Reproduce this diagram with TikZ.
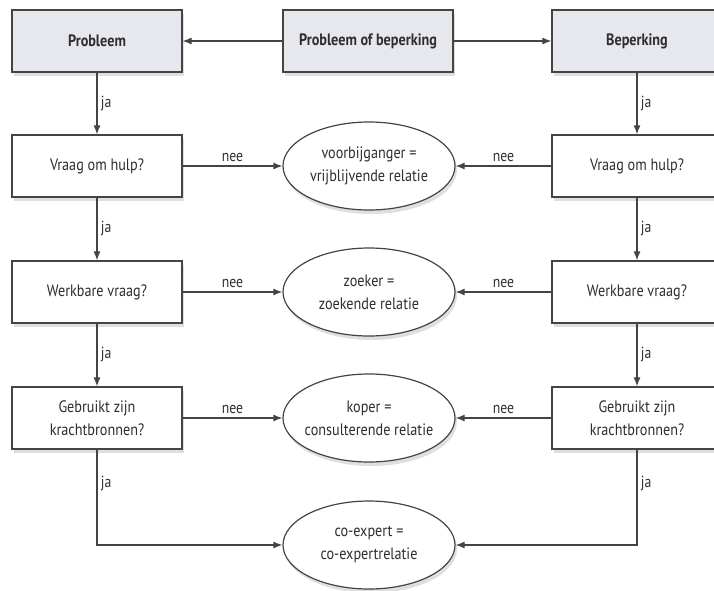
\documentclass[tikz,border=0pt]{standalone}
\usepackage{fontspec}
\setmainfont{PT Sans}[FakeStretch=0.86]
\usepackage{tikz}
\usetikzlibrary{shapes.geometric, arrows.meta, shadows}
\definecolor{topfill}{HTML}{E6E8EE}
\definecolor{linegray}{HTML}{444444}
\definecolor{textgray}{HTML}{2E2E2E}
\tikzset{
  basenode/.style={draw=linegray, line width=1.2pt, fill=white, text=textgray, align=center,
    font=\fontsize{16.5}{23}\selectfont, drop shadow={opacity=0.25, shadow xshift=2pt, shadow yshift=-4pt}},
  topbox/.style={basenode, minimum width=170pt, minimum height=62pt, fill=topfill, font=\fontsize{16.5}{23}\selectfont\bfseries},
  qbox/.style={basenode, minimum width=170pt, minimum height=62pt},
  relnode/.style={basenode, ellipse, minimum width=172pt, minimum height=88pt, inner ysep=0pt, inner xsep=-12pt},
  arr/.style={-{Latex[length=9pt, width=7pt]}, line width=1.2pt, linegray},
  lbl/.style={font=\fontsize{16}{18}\selectfont, text=textgray}
}
\begin{document}
\begin{tikzpicture}[x=1pt, y=-1pt]
\useasboundingbox (0,0) rectangle (714,590);
\clip (0,0) rectangle (714,590);

% ===== TOP ROW =====
\node[topbox] (PRB) at (97,41)  {Probleem};
\node[topbox] (PB)  at (368,41) {Probleem of beperking};
\node[topbox] (BEP) at (637,41) {Beperking};

% ===== LEFT COLUMN =====
\node[qbox] (HL) at (97,166) {Vraag om hulp?};
\node[qbox] (WL) at (97,292) {Werkbare vraag?};
\node[qbox] (KL) at (97,418) {Gebruikt zijn\\krachtbronnen?};

% ===== RIGHT COLUMN =====
\node[qbox] (HR) at (637,166) {Vraag om hulp?};
\node[qbox] (WR) at (637,292) {Werkbare vraag?};
\node[qbox] (KR) at (637,418) {Gebruikt zijn\\krachtbronnen?};

% ===== RELATIONS =====
\node[relnode] (VB) at (369,166) {voorbijganger =\\vrijblijvende relatie};
\node[relnode] (ZK) at (369,292) {zoeker =\\zoekende relatie};
\node[relnode] (KP) at (369,418) {koper =\\consulterende relatie};
\node[relnode] (CE) at (369,545) {co-expert =\\co-expertrelatie};

% ===== TOP ARROWS =====
\draw[arr] (PB) -- (PRB);
\draw[arr] (PB) -- (BEP);

% ===== JA ARROWS =====
\draw[arr] (PRB) -- node[right, lbl] {ja} (HL);
\draw[arr] (HL)  -- node[right, lbl] {ja} (WL);
\draw[arr] (WL)  -- node[right, lbl] {ja} (KL);
\draw[arr] (BEP) -- node[right, lbl] {ja} (HR);
\draw[arr] (HR)  -- node[right, lbl] {ja} (WR);
\draw[arr] (WR)  -- node[right, lbl] {ja} (KR);
\draw[arr] (KL.south) |- node[pos=0.18, right, lbl] {ja} (CE.west);
\draw[arr] (KR.south) |- node[pos=0.18, right, lbl] {ja} (CE.east);

% ===== NEE ARROWS =====
\draw[arr] (HL) -- node[above, lbl] {nee} (VB);
\draw[arr] (WL) -- node[above, lbl] {nee} (ZK);
\draw[arr] (KL) -- node[above, lbl] {nee} (KP);
\draw[arr] (HR) -- node[above, lbl] {nee} (VB);
\draw[arr] (WR) -- node[above, lbl] {nee} (ZK);
\draw[arr] (KR) -- node[above, lbl] {nee} (KP);

\end{tikzpicture}
\end{document}
